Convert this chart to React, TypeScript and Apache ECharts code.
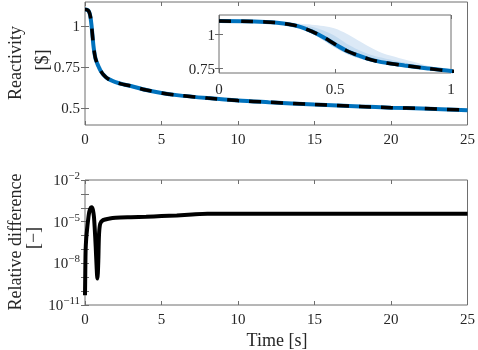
import React, { useEffect, useRef } from "react";
import * as echarts from "echarts";

// Reactivity vs time (top panel and inset)
const timeReact = [0, 0.1, 0.2, 0.25, 0.3, 0.35, 0.4, 0.45, 0.5, 0.55, 0.6, 0.65, 0.7, 0.8, 0.9, 1.0, 1.2, 1.5, 2, 2.5, 3, 4, 5, 6, 8, 10, 12, 15, 18, 20, 22, 25];
const reactivity = [1.1, 1.099, 1.094, 1.088, 1.077, 1.058, 1.024, 0.982, 0.93, 0.882, 0.847, 0.818, 0.798, 0.773, 0.751, 0.732, 0.705, 0.68, 0.66, 0.646, 0.636, 0.612, 0.594, 0.581, 0.563, 0.548, 0.538, 0.524, 0.512, 0.505, 0.5, 0.49];

// Uncertainty band in the inset
const bandX = [0.25, 0.3, 0.35, 0.4, 0.45, 0.5, 0.55, 0.6, 0.65, 0.7, 0.75, 0.8, 0.85, 0.9, 0.95, 1.0];
const bandLower = [1.085, 1.07, 1.05, 1.008, 0.96, 0.905, 0.86, 0.828, 0.805, 0.788, 0.772, 0.76, 0.75, 0.742, 0.735, 0.728];
const bandInner = [1.09, 1.082, 1.072, 1.058, 1.03, 0.99, 0.934, 0.89, 0.855, 0.832, 0.812, 0.795, 0.777, 0.76, 0.746, 0.735];
const bandOuter = [1.092, 1.088, 1.08, 1.074, 1.064, 1.045, 1.007, 0.958, 0.91, 0.868, 0.842, 0.818, 0.795, 0.771, 0.755, 0.743];

// Relative difference (log10) vs time (bottom panel)
const timeDiff = [0, 0.02, 0.04, 0.08, 0.13, 0.2, 0.26, 0.33, 0.41, 0.47, 0.52, 0.58, 0.63, 0.7, 0.76, 0.81, 0.84, 0.87, 0.92, 1.0, 1.18, 1.62, 2, 3, 4, 5, 6, 7, 8, 10, 15, 20, 25];
const relDiffLog10 = [-10.3, -8.5, -7.06, -6.2, -5.6, -4.9, -4.4, -4.1, -3.97, -4.0, -4.17, -4.6, -5.37, -6.8, -8.27, -9.1, -8.7, -7.8, -5.85, -5.13, -4.89, -4.77, -4.72, -4.68, -4.65, -4.6, -4.55, -4.48, -4.43, -4.43, -4.43, -4.43, -4.43];

const xTicks = [0, 5, 10, 15, 20, 25];
const reactTicks = [0.5, 0.75, 1];
const insetYTicks = [0.75, 1];
const logLabelTicks = [-11, -8, -5, -2];

const FONT = "Liberation Serif, DejaVu Serif, serif";
const AX = "#6e6e6e";
const TXT = "#262626";
const BLUE = "#0072BD";

export default function App() {
  const ref = useRef<HTMLDivElement>(null);
  useEffect(() => {
    if (!ref.current) return;
    const chart = echarts.init(ref.current, null, { renderer: "svg" });
    const reactData = timeReact.map((t, i) => [t, reactivity[i]]);
    const diffData = timeDiff.map((t, i) => [t, relDiffLog10[i]]);

    const bandPolygon = (upper: number[], lower: number[], fill: string) => (params: any, api: any) => {
      const pts: number[][] = [];
      for (let i = 0; i < bandX.length; i++) pts.push(api.coord([bandX[i], upper[i]]));
      for (let i = bandX.length - 1; i >= 0; i--) pts.push(api.coord([bandX[i], lower[i]]));
      return { type: "polygon", shape: { points: pts, smooth: 0.3 }, style: { fill } };
    };

    const lbl = { fontFamily: FONT, fontSize: 15, color: TXT };
    const gridBox = { show: true, borderColor: AX, borderWidth: 1, backgroundColor: "#fff" };
    const tickIn = { inside: true, length: 4, lineStyle: { color: AX } };
    const title = (text: string, x: number, y: number, rot: boolean) => ({
      type: "text", x, y, rotation: rot ? Math.PI / 2 : 0,
      style: { text, fontFamily: FONT, fontSize: 18, fill: TXT, align: "center", verticalAlign: "middle" },
    });

    chart.setOption({
      animation: false,
      grid: [
        { left: 85, top: 2, width: 385, height: 123, ...gridBox },
        { left: 219, top: 15, width: 232, height: 58, ...gridBox },
        { left: 85, top: 180, width: 385, height: 125, ...gridBox },
      ],
      xAxis: [
        { gridIndex: 0, type: "value", min: 0, max: 25, interval: 5, axisLine: { show: false }, axisTick: tickIn, splitLine: { show: false }, axisLabel: { ...lbl, margin: 6, customValues: xTicks } },
        { gridIndex: 0, type: "value", position: "top", min: 0, max: 25, interval: 5, axisLine: { show: false }, axisTick: tickIn, splitLine: { show: false }, axisLabel: { show: false } },
        { gridIndex: 1, type: "value", min: 0, max: 1, interval: 0.5, axisLine: { show: false }, axisTick: tickIn, splitLine: { show: false }, axisLabel: { ...lbl, margin: 8 } },
        { gridIndex: 1, type: "value", position: "top", min: 0, max: 1, interval: 0.5, axisLine: { show: false }, axisTick: tickIn, splitLine: { show: false }, axisLabel: { show: false } },
        { gridIndex: 2, type: "value", min: 0, max: 25, interval: 5, axisLine: { show: false }, axisTick: tickIn, splitLine: { show: false }, axisLabel: { ...lbl, margin: 6, customValues: xTicks } },
        { gridIndex: 2, type: "value", position: "top", min: 0, max: 25, interval: 5, axisLine: { show: false }, axisTick: tickIn, splitLine: { show: false }, axisLabel: { show: false } },
      ],
      yAxis: [
        { gridIndex: 0, type: "value", min: 0.4, max: 1.145, axisLine: { show: false }, splitLine: { show: false },
          axisTick: { ...tickIn, customValues: reactTicks }, axisLabel: { ...lbl, margin: 5, customValues: reactTicks } },
        { gridIndex: 0, type: "value", position: "right", min: 0.4, max: 1.145, axisLine: { show: false }, splitLine: { show: false },
          axisTick: { ...tickIn, customValues: reactTicks }, axisLabel: { show: false } },
        { gridIndex: 1, type: "value", min: 0.718, max: 1.145, axisLine: { show: false }, splitLine: { show: false },
          axisTick: { ...tickIn, customValues: insetYTicks }, axisLabel: { ...lbl, margin: 4, customValues: insetYTicks } },
        { gridIndex: 1, type: "value", position: "right", min: 0.718, max: 1.145, axisLine: { show: false }, splitLine: { show: false },
          axisTick: { ...tickIn, customValues: insetYTicks }, axisLabel: { show: false } },
        { gridIndex: 2, type: "value", min: -11, max: -2, interval: 1, axisLine: { show: false }, splitLine: { show: false },
          axisTick: tickIn,
          axisLabel: {
            margin: 5, customValues: logLabelTicks,
            formatter: (v: number) => `{b|10}{s|−${Math.abs(v)}}`,
            rich: {
              b: { fontFamily: FONT, fontSize: 15, color: TXT },
              s: { fontFamily: FONT, fontSize: 11, color: TXT, padding: [0, 0, 10, 0] },
            },
          } },
        { gridIndex: 2, type: "value", position: "right", min: -11, max: -2, interval: 1, axisLine: { show: false }, splitLine: { show: false },
          axisTick: tickIn, axisLabel: { show: false } },
      ],
      series: [
        { type: "line", xAxisIndex: 0, yAxisIndex: 0, data: reactData, smooth: 0.3, symbol: "none", lineStyle: { color: BLUE, width: 4 }, z: 3 },
        { type: "line", xAxisIndex: 0, yAxisIndex: 0, data: reactData, smooth: 0.3, symbol: "none", lineStyle: { color: "#000", width: 3.5, type: [12, 10] }, z: 4 },
        { type: "custom", xAxisIndex: 2, yAxisIndex: 2, data: [[0.5, 0.9]], renderItem: bandPolygon(bandOuter, bandLower, "#dce9f6"), z: 2 },
        { type: "custom", xAxisIndex: 2, yAxisIndex: 2, data: [[0.5, 0.9]], renderItem: bandPolygon(bandInner, bandLower, "#c3dbf0"), z: 2 },
        { type: "line", xAxisIndex: 2, yAxisIndex: 2, data: reactData, smooth: 0.3, symbol: "none", clip: true, lineStyle: { color: BLUE, width: 4 }, z: 3 },
        { type: "line", xAxisIndex: 2, yAxisIndex: 2, data: reactData, smooth: 0.3, symbol: "none", clip: true, lineStyle: { color: "#000", width: 3.5, type: [12, 10] }, z: 4 },
        { type: "line", xAxisIndex: 4, yAxisIndex: 4, data: diffData, smooth: 0.3, symbol: "none", lineStyle: { color: "#000", width: 4 }, z: 3 },
      ],
      graphic: [
        title("Reactivity", 15, 63, true),
        title("[$]", 42, 60, true),
        title("Relative difference", 15, 242, true),
        title("[−]", 33, 238, true),
        title("Time [s]", 277, 340, false),
      ],
    });
    return () => chart.dispose();
  }, []);
  return <div ref={ref} style={{ position: "fixed", left: 0, top: 0, width: 478, height: 350 }} />;
}
